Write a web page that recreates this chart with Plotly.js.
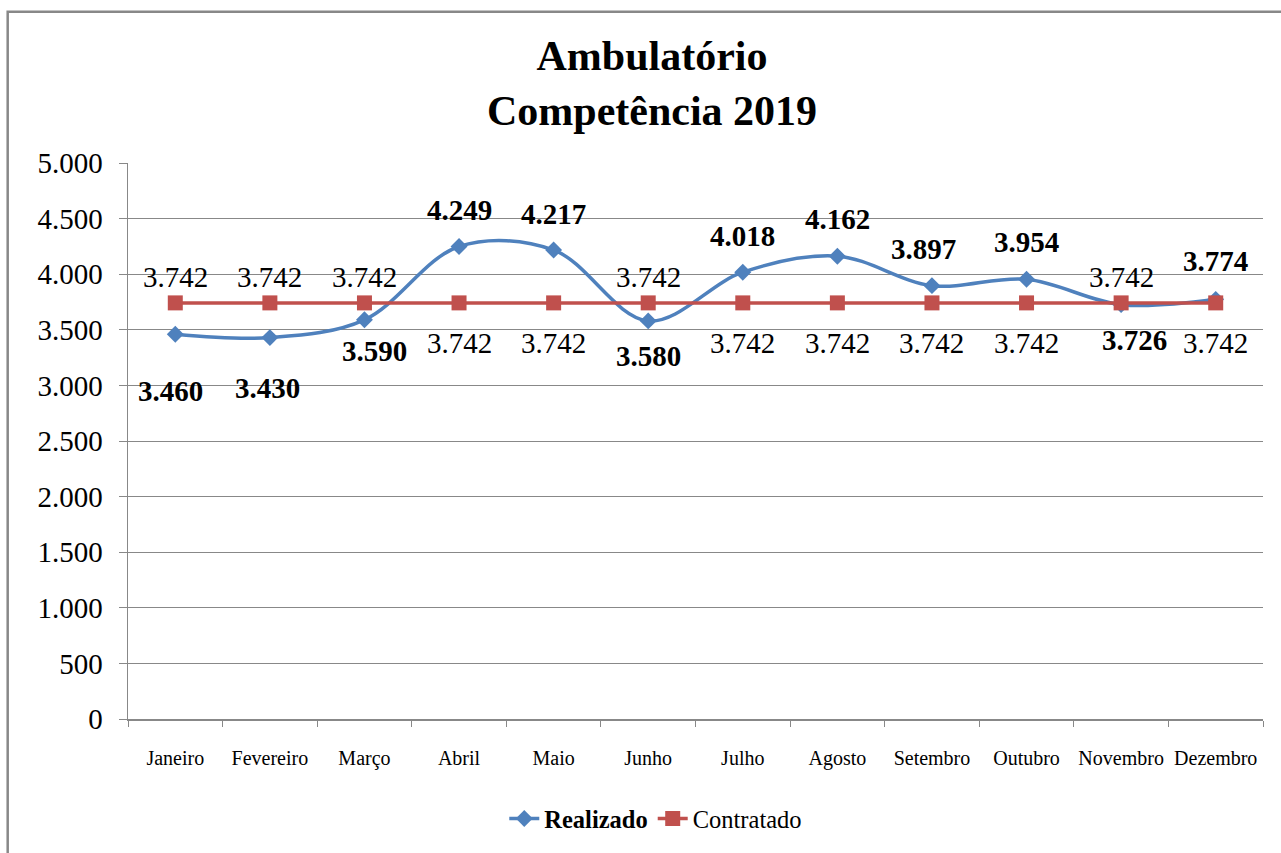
<!DOCTYPE html>
<html><head><meta charset="utf-8">
<script src="https://cdn.plot.ly/plotly-3.0.1.min.js"></script>
<style>html,body{margin:0;padding:0;background:#fff}#chart{width:1281px;height:853px}</style>
</head><body><div id="chart"></div>
<script>
const months = ["Janeiro","Fevereiro","Março","Abril","Maio","Junho","Julho","Agosto","Setembro","Outubro","Novembro","Dezembro"];
const realizado = [3460,3430,3590,4249,4217,3580,4018,4162,3897,3954,3726,3774];
const contratado = [3742,3742,3742,3742,3742,3742,3742,3742,3742,3742,3742,3742];

// label offsets (pixels) - styling only
const realShiftX = [-5,-2,10,0,0,0,0,0,-8,0,13,0];
const realShiftY = [-57,-50,-31,37,36,-35,36,37,37,37,-35,38];
const contShiftY = [26,26,26,-40,-40,26,-40,-40,-40,-40,26,-40];

const fmt = v => v.toLocaleString('de-DE');
const serif = "'Liberation Serif', 'Times New Roman', serif";

const annotations = [];
months.forEach((m,i)=>{
  annotations.push({x:m,y:realizado[i],xref:'x',yref:'y',text:'<b>'+fmt(realizado[i])+'</b>',showarrow:false,
    xshift:realShiftX[i],yshift:realShiftY[i],font:{family:serif,size:29,color:'#000'}});
  annotations.push({x:m,y:contratado[i],xref:'x',yref:'y',text:fmt(contratado[i]),showarrow:false,
    yshift:contShiftY[i],font:{family:serif,size:29,color:'#000'}});
});

const data = [
  {x:months,y:realizado,type:'scatter',mode:'lines+markers',name:'<b>Realizado</b>',
   line:{color:'#4F81BD',width:3.5,shape:'spline',smoothing:1},
   marker:{symbol:'diamond',size:13,color:'#4F81BD'}},
  {x:months,y:contratado,type:'scatter',mode:'lines+markers',name:'Contratado',
   line:{color:'#C0504D',width:3.5},
   marker:{symbol:'square',size:15,color:'#C0504D'}}
];

const layout = {
  width:1281,height:853,
  separators:',.',
  paper_bgcolor:'#fff',plot_bgcolor:'#fff',
  margin:{l:128,r:18,t:163,b:131},
  font:{family:serif,color:'#000'},
  title:{text:'<b>Ambulatório<br>Competência 2019</b>',x:0.509,xanchor:'center',y:0.918,yanchor:'top',
    font:{family:serif,size:42,color:'#000'}},
  xaxis:{type:'category',range:[-0.5,11.5],showgrid:false,showline:true,linecolor:'#888',linewidth:1.5,
    ticks:'outside',tickson:'boundaries',ticklen:6,tickcolor:'#888',ticklabelstandoff:20,tickangle:0,
    tickfont:{family:serif,size:20,color:'#000'},zeroline:false},
  yaxis:{range:[0,5000],dtick:500,tickformat:',d',showgrid:true,gridcolor:'#888',gridwidth:1,
    showline:true,linecolor:'#888',linewidth:1.5,ticks:'outside',ticklen:8,tickcolor:'#888',
    tickfont:{family:serif,size:29,color:'#000'},zeroline:false,ticklabelstandoff:10},
  showlegend:true,
  legend:{orientation:'h',x:0.465,xanchor:'center',y:-0.179,yanchor:'middle',
    font:{family:serif,size:24.5,color:'#000'}},
  annotations:annotations,
  shapes:[{type:'rect',xref:'paper',yref:'paper',x0:-0.106,x1:1.2,y0:-0.5,y1:1.272,
    line:{color:'#888',width:2.5},fillcolor:'rgba(0,0,0,0)',layer:'above'}]
};
Plotly.newPlot('chart',data,layout,{displayModeBar:false,staticPlot:true});
</script></body></html>
